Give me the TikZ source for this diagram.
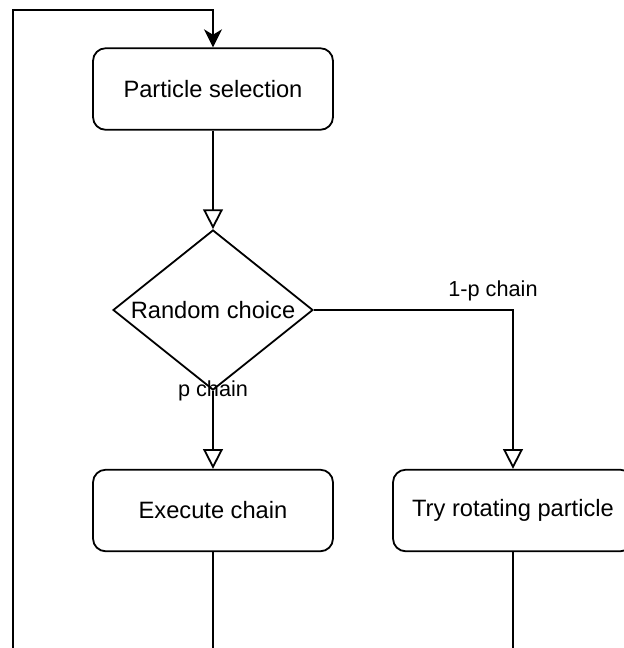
\documentclass[tikz,border=0pt]{standalone}
\usepackage{fontspec}
\setmainfont{Liberation Sans}
\usetikzlibrary{shapes.geometric,arrows.meta}

\begin{document}
\begin{tikzpicture}[x=0.5556bp,y=-0.5556bp,line width=1bp,
  box/.style={draw,rounded corners=7bp,minimum width=133.3bp,minimum height=45.3bp,font=\fontsize{13.2}{15}\selectfont},
  choice/.style={draw,diamond,shape aspect=1.25,inner sep=0pt,minimum width=111.1bp,minimum height=88.9bp,font=\fontsize{13.2}{15}\selectfont},
  lbl/.style={font=\fontsize{12.1}{14}\selectfont},
  open/.style={-{Triangle[open,width=11bp,length=11bp]}},
  back/.style={-{Stealth[width=10bp,length=10bp,inset=3bp]}}]
\useasboundingbox (0,0) rectangle (624,648);
\node[box] (sel) at (213,89) {Particle selection};
\node[choice] (rand) at (213,310) {Random choice};
\node[box] (exec) at (213,510.5) {Execute chain};
\node[box] (rot) at (513,510.5) {Try rotating particle};
\coordinate (lb) at (13,648);
\coordinate (lt) at (13,10);
\coordinate (eb) at (213,648);
\coordinate (rb) at (513,648);
\draw[open] (sel) -- (rand);
\draw[open] (rand) -- (exec);
\draw[open] (rand.east) -| (rot.north);
\draw (exec) -- (eb);
\draw (rot) -- (rb);
\draw[back] (lb) -- (lt) -| (sel.north);
\node[lbl] (pc) at (213,391) {p chain};
\node[lbl] (qc) at (493,291) {1-p chain};
\end{tikzpicture}
\end{document}
